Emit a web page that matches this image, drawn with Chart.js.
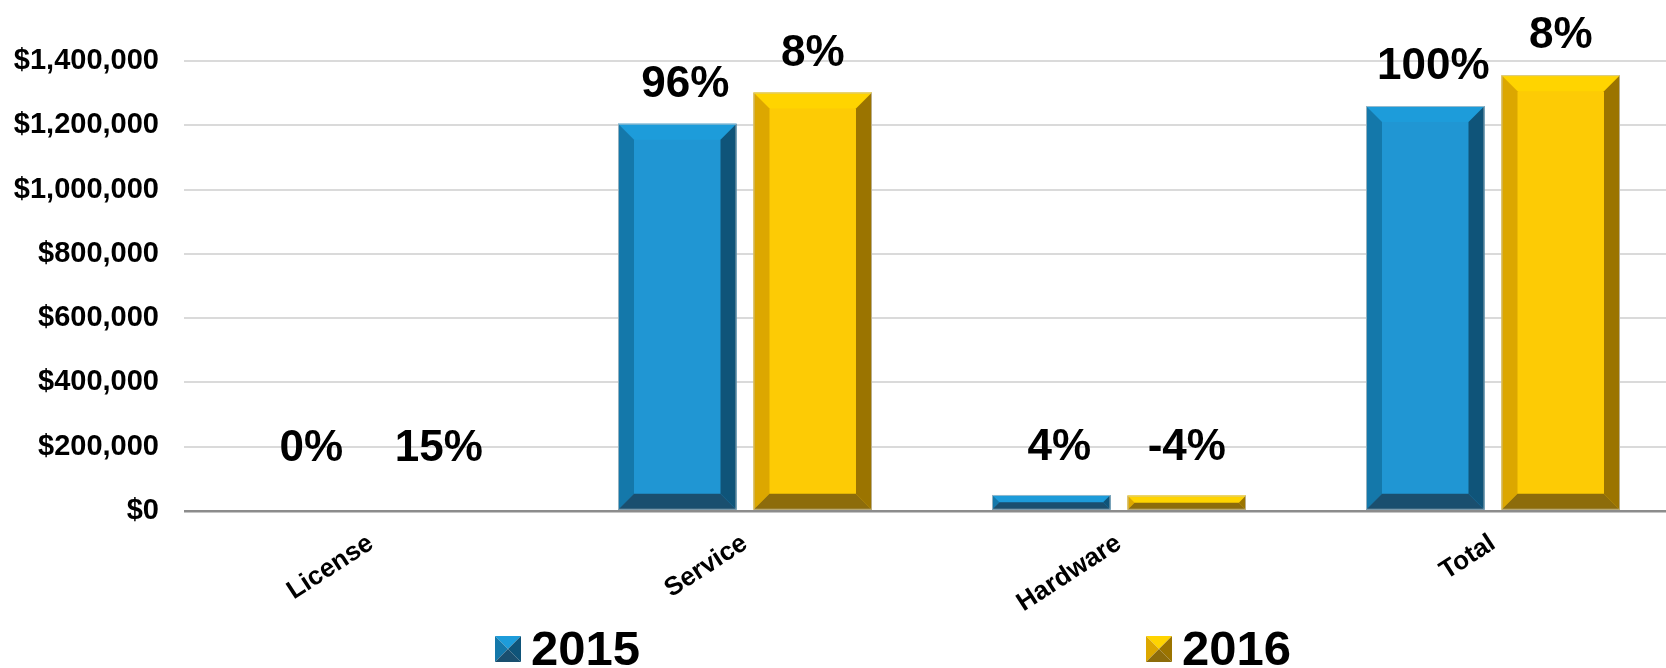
<!DOCTYPE html>
<html>
<head>
<meta charset="utf-8">
<script src="https://cdn.jsdelivr.net/npm/chart.js@4/dist/chart.umd.min.js"></script>
<style>
  html, body { margin: 0; padding: 0; background: #ffffff; overflow: hidden; }
  #wrap { width: 1666px; height: 668px; position: relative; overflow: hidden; }
  #c { display: block; }
</style>
</head>
<body>
<div id="wrap"><canvas id="c" width="1680" height="668"></canvas></div>
<script>
// ---- data ----
const categories = ['License', 'Service', 'Hardware', 'Total'];
const seriesNames = ['2015', '2016'];
const values2015 = [0, 1205000, 50000, 1260000];
const values2016 = [0, 1302000, 48000, 1356000];
const labels2015 = ['0%', '96%', '4%', '100%'];
const labels2016 = ['15%', '8%', '-4%', '8%'];
const yTickValues = [0, 200000, 400000, 600000, 800000, 1000000, 1200000, 1400000];

// ---- styles ----
const FONT = '"Liberation Sans", Arial, "DejaVu Sans", sans-serif';
const palettes = [
  { face: '#2096d3', top: '#1d9cda', left: '#1478aa', right: '#0f5479', bottom: '#1a4f6f' },
  { face: '#fdcb05', top: '#ffd400', left: '#dca700', right: '#9b7400', bottom: '#8d6c0b' }
];
const labelShift = [8, 0];
const valueLabels = [labels2015, labels2016];

const bevelPlugin = {
  id: 'bevel',
  afterDatasetsDraw(chart) {
    const ctx = chart.ctx;
    chart.data.datasets.forEach((ds, di) => {
      const meta = chart.getDatasetMeta(di);
      const pal = palettes[di];
      meta.data.forEach((bar) => {
        const p = bar.getProps(['x', 'y', 'base', 'width'], true);
        const x0 = p.x - p.width / 2, x1 = p.x + p.width / 2;
        const y0 = Math.min(p.y, p.base), y1 = Math.max(p.y, p.base);
        const h = y1 - y0, w = x1 - x0;
        if (h < 0.5) return;
        const b = Math.min(16, w / 2, h / 2);
        const poly = (pts, col) => {
          ctx.beginPath();
          ctx.moveTo(pts[0][0], pts[0][1]);
          for (let i = 1; i < pts.length; i++) ctx.lineTo(pts[i][0], pts[i][1]);
          ctx.closePath();
          ctx.fillStyle = col;
          ctx.fill();
        };
        ctx.save();
        poly([[x0, y0], [x1, y0], [x1 - b, y0 + b], [x0 + b, y0 + b]], pal.top);
        poly([[x0, y0], [x0 + b, y0 + b], [x0 + b, y1 - b], [x0, y1]], pal.left);
        poly([[x1, y0], [x1 - b, y0 + b], [x1 - b, y1 - b], [x1, y1]], pal.right);
        poly([[x0, y1], [x0 + b, y1 - b], [x1 - b, y1 - b], [x1, y1]], pal.bottom);
        ctx.strokeStyle = 'rgba(200,200,200,0.7)';
        ctx.lineWidth = 1;
        ctx.strokeRect(x0 + 0.5, y0 + 0.5, w - 1, h - 1);
        ctx.restore();
      });
    });
  }
};

const labelPlugin = {
  id: 'valueLabels',
  afterDatasetsDraw(chart) {
    const ctx = chart.ctx;
    ctx.save();
    ctx.font = 'bold 44px ' + FONT;
    ctx.fillStyle = '#000000';
    ctx.textAlign = 'center';
    ctx.textBaseline = 'alphabetic';
    chart.data.datasets.forEach((ds, di) => {
      const meta = chart.getDatasetMeta(di);
      meta.data.forEach((bar, i) => {
        const p = bar.getProps(['x', 'y', 'base'], true);
        const y = Math.min(p.y - 27, p.base - 50);
        ctx.fillText(valueLabels[di][i], p.x + labelShift[di], y);
      });
    });
    ctx.restore();
  }
};

const legendPlugin = {
  id: 'customLegend',
  afterDraw(chart) {
    const ctx = chart.ctx;
    const items = [
      { name: seriesNames[0], pal: palettes[0], ix: 495 },
      { name: seriesNames[1], pal: palettes[1], ix: 1146 }
    ];
    ctx.save();
    items.forEach((it) => {
      const s = 26, x = it.ix, y = 636, cx = x + s / 2, cy = y + s / 2;
      const tri = (a, b2, col) => {
        ctx.beginPath();
        ctx.moveTo(a[0], a[1]); ctx.lineTo(b2[0], b2[1]); ctx.lineTo(cx, cy);
        ctx.closePath(); ctx.fillStyle = col; ctx.fill();
      };
      tri([x, y], [x + s, y], it.pal.top);
      tri([x, y], [x, y + s], it.pal.left);
      tri([x + s, y], [x + s, y + s], it.pal.right);
      tri([x, y + s], [x + s, y + s], it.pal.bottom);
      ctx.font = 'bold 49px ' + FONT;
      ctx.fillStyle = '#000000';
      ctx.textAlign = 'left';
      ctx.textBaseline = 'alphabetic';
      ctx.fillText(it.name, x + 36, 665);
    });
    ctx.restore();
  }
};

new Chart(document.getElementById('c'), {
  type: 'bar',
  data: {
    labels: categories,
    datasets: [
      { label: seriesNames[0], data: values2015, backgroundColor: palettes[0].face, borderWidth: 0 },
      { label: seriesNames[1], data: values2016, backgroundColor: palettes[1].face, borderWidth: 0 }
    ]
  },
  options: {
    responsive: false,
    animation: false,
    devicePixelRatio: 1,
    categoryPercentage: 0.7246,
    barPercentage: 0.8745,
    layout: { padding: { top: 61, left: 0, right: 0, bottom: 0 } },
    plugins: { legend: { display: false }, tooltip: { enabled: false } },
    scales: {
      x: {
        grid: { display: false },
        border: { display: false },
        ticks: {
          autoSkip: false,
          minRotation: 33,
          maxRotation: 33,
          padding: 9,
          color: '#000000',
          font: { family: FONT, size: 26, weight: 'bold' }
        },
        afterFit(scale) { scale.height = 668 - 511; }
      },
      y: {
        min: 0,
        max: yTickValues[yTickValues.length - 1],
        afterBuildTicks(scale) { scale.ticks = yTickValues.map(v => ({ value: v })); },
        grid: {
          drawTicks: false,
          color: (c) => (c.tick && c.tick.value === 0 ? '#8c8c8c' : '#dadada'),
          lineWidth: (c) => (c.tick && c.tick.value === 0 ? 2.5 : 2)
        },
        border: { display: false },
        ticks: {
          padding: 25,
          color: '#000000',
          font: { family: FONT, size: 29, weight: 'bold' },
          callback: (v) => '$' + Number(v).toLocaleString('en-US')
        },
        afterFit(scale) { scale.width = 184; }
      }
    }
  },
  plugins: [bevelPlugin, labelPlugin, legendPlugin]
});
</script>
</body>
</html>
